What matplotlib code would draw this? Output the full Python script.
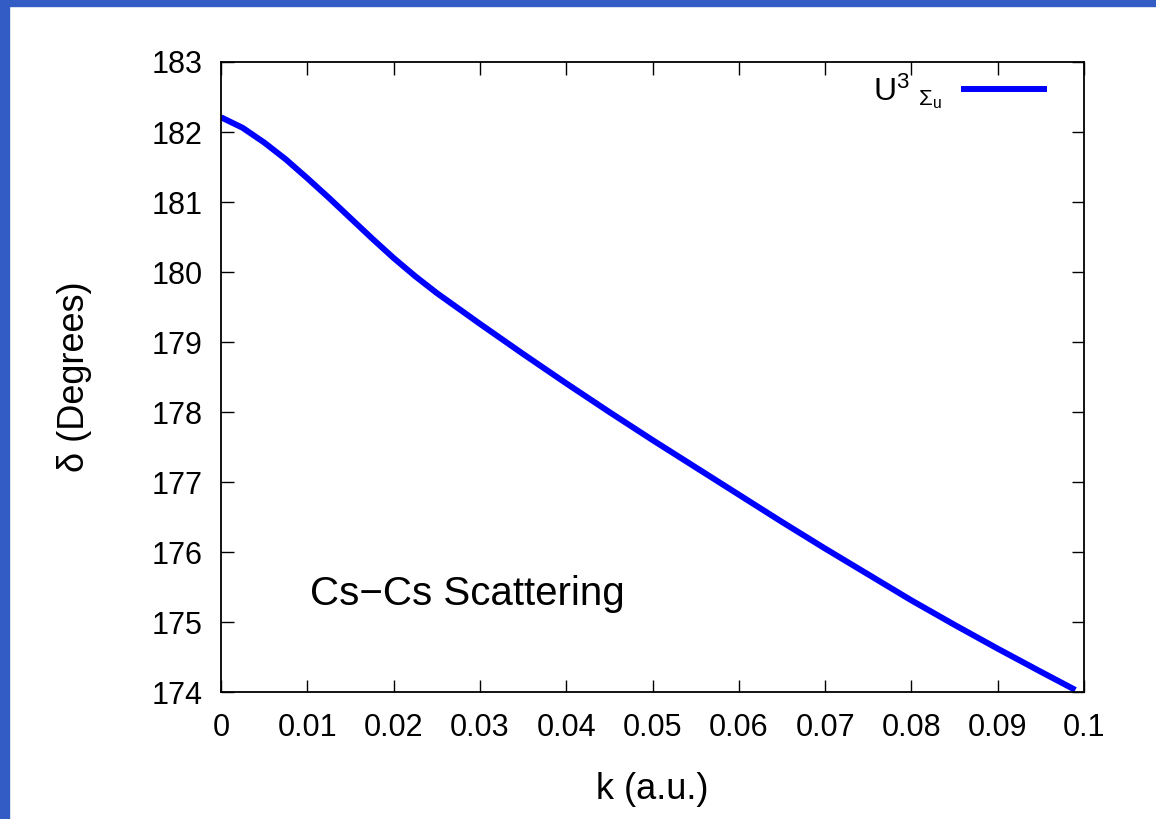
import numpy as np
import matplotlib
matplotlib.use("Agg")
import matplotlib.pyplot as plt
from matplotlib.patches import Rectangle

plt.rcParams['font.family'] = ['Liberation Sans', 'DejaVu Sans']
plt.rcParams['mathtext.fontset'] = 'custom'
plt.rcParams['mathtext.rm'] = 'Liberation Sans'
plt.rcParams['mathtext.it'] = 'Liberation Sans'

# valori
k = [0, 0.0025, 0.005, 0.0075, 0.01, 0.0125, 0.015, 0.0175, 0.02, 0.0225, 0.025,
     0.03, 0.035, 0.04, 0.045, 0.05, 0.055, 0.06, 0.065, 0.07, 0.075, 0.08,
     0.085, 0.09, 0.095, 0.099]
delta = [182.21, 182.06, 181.85, 181.61, 181.34, 181.06, 180.77, 180.48, 180.2,
         179.94, 179.7, 179.26, 178.83, 178.41, 178.0, 177.6, 177.21, 176.82,
         176.43, 176.05, 175.68, 175.31, 174.96, 174.62, 174.29, 174.03]
xticks = np.arange(0, 0.1001, 0.01)
xticklabels = ['0', '0.01', '0.02', '0.03', '0.04', '0.05', '0.06', '0.07', '0.08', '0.09', '0.1']
yticks = np.arange(174, 183.5, 1)

fig = plt.figure(figsize=(11.56, 8.19), dpi=100)
ax = fig.add_axes([0.1912, 0.155, 0.7465, 0.7693])

ax.plot(k, delta, color='#0000ff', lw=4.3, label=r'U$^{3}$ $_{\Sigma_{u}}$',
        solid_capstyle='butt')

ax.set_xlim(0, 0.1)
ax.set_ylim(174, 183)
ax.set_xticks(xticks)
ax.set_xticklabels(xticklabels)
ax.set_yticks(yticks)
ax.tick_params(direction='in', length=9, width=1, top=True, right=True, labelsize=22)
ax.tick_params(axis='x', pad=15)
ax.tick_params(axis='y', pad=13)
for s in ax.spines.values():
    s.set_linewidth(1.3)

ax.set_xlabel('k (a.u.)', fontsize=26)
ax.set_ylabel('δ (Degrees)', fontsize=26)
ax.xaxis.set_label_coords(0.5, -0.127)
ax.yaxis.set_label_coords(-0.15, 0.5)

ax.text(0.103, 0.138, 'Cs\u2212Cs Scattering', transform=ax.transAxes,
        fontsize=29, va='baseline', ha='left')

ax.legend(loc='upper right', bbox_to_anchor=(0.981, 1.019), frameon=False,
          markerfirst=False, fontsize=23, handlelength=2.7, handletextpad=0.55,
          borderaxespad=0.25)

# cornice blu
fig.patches.append(Rectangle((0, 0), 9 / 1156, 1, transform=fig.transFigure,
                             color='#335cc4', zorder=0))
fig.patches.append(Rectangle((0, 1 - 6 / 819), 1, 6 / 819, transform=fig.transFigure,
                             color='#335cc4', zorder=0))

fig.savefig('out.png', dpi=100)
